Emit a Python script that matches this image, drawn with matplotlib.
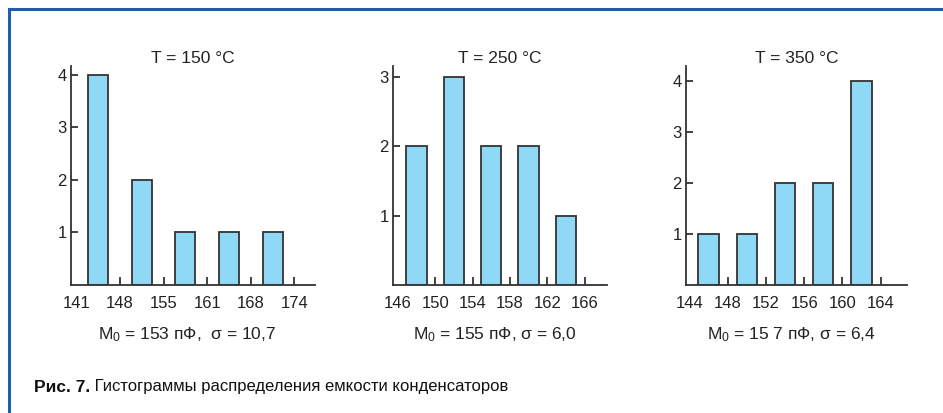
import matplotlib
matplotlib.use("Agg")
import matplotlib.pyplot as plt
from matplotlib.lines import Line2D

plt.rcParams['font.family'] = ['Liberation Sans', 'DejaVu Sans']
plt.rcParams['mathtext.fontset'] = 'custom'
plt.rcParams['mathtext.rm'] = 'Liberation Sans'
plt.rcParams['mathtext.it'] = 'Liberation Sans:italic'

# data: bin edges (tick labels) and counts per bin for each temperature
titles = ["T = 150 °C", "T = 250 °C", "T = 350 °C"]
edges_150 = ["141", "148", "155", "161", "168", "174"]
edges_250 = ["146", "150", "154", "158", "162", "166"]
edges_350 = ["144", "148", "152", "156", "160", "164"]
counts_150 = [4, 2, 1, 1, 1]
counts_250 = [2, 3, 2, 2, 1]
counts_350 = [1, 1, 2, 2, 4]
yticks_150 = [1, 2, 3, 4]
yticks_250 = [1, 2, 3]
yticks_350 = [1, 2, 3, 4]
notes = [r"M$_\mathregular{0}$ = 153 пФ,  σ = 10,7",
         r"M$_\mathregular{0}$ = 155 пФ, σ = 6,0",
         r"M$_\mathregular{0}$ = 15 7 пФ, σ = 6,4"]
caption_bold = "Рис. 7."
caption_text = " Гистограммы распределения емкости конденсаторов"

W, H = 943, 413
fig = plt.figure(figsize=(W / 100, H / 100), dpi=100)

bar_color = "#8fd8f6"
edge_color = "#333333"
txt = "#222222"
fs = 12

# axes boxes in pixels: left, right, plus limits and bar width
panels = [
    (71, 315, edges_150, counts_150, yticks_150, (-0.12, 5.47), 4.17, 0.46),
    (393, 607, edges_250, counts_250, yticks_250, (-0.13, 5.6), 3.16, 0.55),
    (686, 907, edges_350, counts_350, yticks_350, (-0.09, 5.69), 4.29, 0.53),
]

for i, (x0, x1, edges, counts, yt, xl, ytop, bw) in enumerate(panels):
    ax = fig.add_axes([x0 / W, 1 - 285 / H, (x1 - x0) / W, (285 - 66) / H])
    pos = [k + 0.5 for k in range(len(counts))]
    ax.bar(pos, counts, width=bw, color=bar_color, edgecolor=edge_color,
           linewidth=1.3, zorder=2)
    ax.set_xlim(*xl)
    ax.set_ylim(0, ytop)
    ax.spines['top'].set_visible(False)
    ax.spines['right'].set_visible(False)
    for s in ('left', 'bottom'):
        ax.spines[s].set_color(edge_color)
        ax.spines[s].set_linewidth(1.3)
    ax.set_xticks(range(len(edges)))
    ax.set_xticklabels(edges)
    ax.set_yticks(yt)
    ax.tick_params(axis='x', direction='in', length=6, width=1.3,
                   color=edge_color, labelsize=fs, pad=8, labelcolor=txt)
    ax.tick_params(axis='y', direction='in', length=5, width=1.3,
                   color=edge_color, labelsize=fs, pad=3, labelcolor=txt)
    ax.xaxis.get_major_ticks()[0].tick1line.set_visible(False)
    ax.set_title(titles[i], fontsize=12.5, color=txt, pad=2)
    ax.text(0.475, -50 / 219, notes[i], transform=ax.transAxes, ha='center',
            va='center', fontsize=12.5, color=txt)

# caption
t = fig.text(34 / W, 1 - 387 / H, caption_bold, fontsize=12.5, fontweight='bold',
             va='center', ha='left', color='#111111')
fig.canvas.draw()
bb = t.get_window_extent()
fig.text(bb.x1 / W, 1 - 387 / H, caption_text, fontsize=12, va='center',
         ha='left', color='#111111')

# blue frame (top and left)
blue = "#1c5faf"
fig.add_artist(Line2D([9 / W, 1], [1 - 9 / H, 1 - 9 / H], color=blue,
                      linewidth=2.2, transform=fig.transFigure))
fig.add_artist(Line2D([9 / W, 9 / W], [0, 1 - 9 / H], color=blue,
                      linewidth=2.2, transform=fig.transFigure))

fig.savefig("out.png", dpi=100)
